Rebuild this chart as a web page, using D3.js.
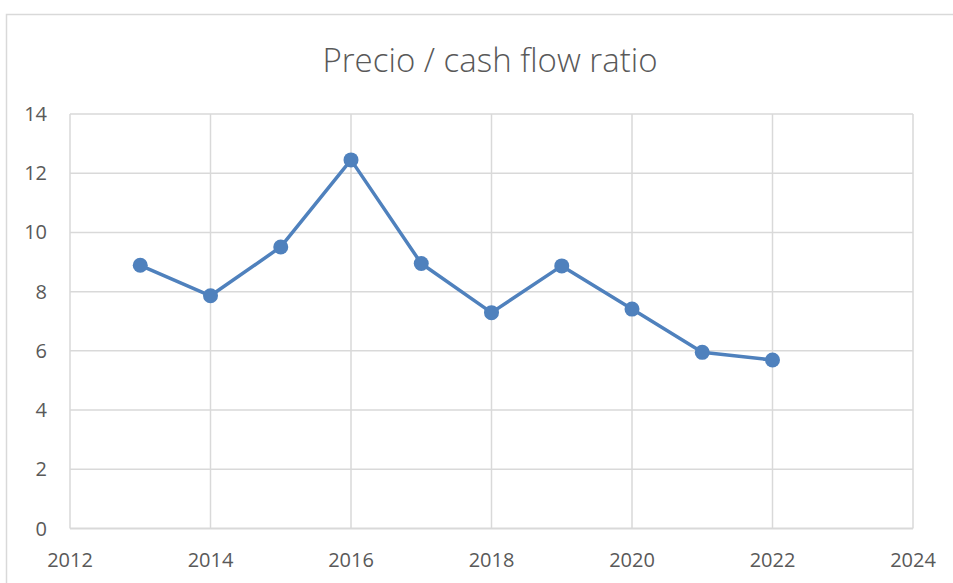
<!DOCTYPE html>
<html>
<head>
<meta charset="utf-8">
<script src="https://cdn.jsdelivr.net/npm/d3@7"></script>
<style>
  body { margin: 0; background: #fff; }
  text { font-family: "Open Sans", sans-serif; fill: #595959; }
</style>
</head>
<body>
<svg id="svg"></svg>
<script>
const width = 953, height = 583;

// data
const years = [2013, 2014, 2015, 2016, 2017, 2018, 2019, 2020, 2021, 2022];
const ratios = [8.89, 7.86, 9.51, 12.45, 8.95, 7.29, 8.87, 7.41, 5.95, 5.69];
const xTicks = [2012, 2014, 2016, 2018, 2020, 2022, 2024];
const yTicks = [0, 2, 4, 6, 8, 10, 12, 14];
const title = "Precio / cash flow ratio";

const plot = {left: 70, right: 913, top: 114, bottom: 528.5};

const svg = d3.select("#svg")
    .attr("width", width)
    .attr("height", height);

// chart frame (only top and left edges visible)
svg.append("path")
    .attr("d", `M6.5,${height} V14.5 H${width}`)
    .attr("fill", "none")
    .attr("stroke", "#d9d9d9")
    .attr("stroke-width", 1.5);

const x = d3.scaleLinear().domain([2012, 2024]).range([plot.left, plot.right]);
const y = d3.scaleLinear().domain([0, 14]).range([plot.bottom, plot.top]);

// gridlines
svg.append("g")
    .selectAll("line")
    .data(yTicks)
    .join("line")
    .attr("x1", plot.left).attr("x2", plot.right)
    .attr("y1", d => y(d)).attr("y2", d => y(d))
    .attr("stroke", "#d9d9d9")
    .attr("stroke-width", d => d === 0 ? 2 : 1.5);

svg.append("g")
    .selectAll("line")
    .data(xTicks)
    .join("line")
    .attr("x1", d => x(d)).attr("x2", d => x(d))
    .attr("y1", plot.top).attr("y2", plot.bottom)
    .attr("stroke", "#d9d9d9")
    .attr("stroke-width", 1.5);

// axis labels
svg.append("g")
    .selectAll("text")
    .data(yTicks)
    .join("text")
    .attr("x", 47)
    .attr("y", d => y(d))
    .attr("dy", "0.35em")
    .attr("text-anchor", "end")
    .attr("font-size", 20)
    .text(d => d);

svg.append("g")
    .selectAll("text")
    .data(xTicks)
    .join("text")
    .attr("x", d => x(d))
    .attr("y", 567)
    .attr("text-anchor", "middle")
    .attr("font-size", 20)
    .text(d => d);

// title
svg.append("text")
    .attr("x", 490)
    .attr("y", 72)
    .attr("text-anchor", "middle")
    .attr("font-size", 33)
    .attr("font-weight", 300)
    .text(title);

// series
const pts = years.map((yr, i) => [yr, ratios[i]]);
const line = d3.line().x(d => x(d[0])).y(d => y(d[1]));

svg.append("path")
    .datum(pts)
    .attr("d", line)
    .attr("fill", "none")
    .attr("stroke", "#4f81bd")
    .attr("stroke-width", 3.5)
    .attr("stroke-linejoin", "round");

svg.append("g")
    .selectAll("circle")
    .data(pts)
    .join("circle")
    .attr("cx", d => x(d[0]))
    .attr("cy", d => y(d[1]))
    .attr("r", 7.5)
    .attr("fill", "#4f81bd");
</script>
</body>
</html>
